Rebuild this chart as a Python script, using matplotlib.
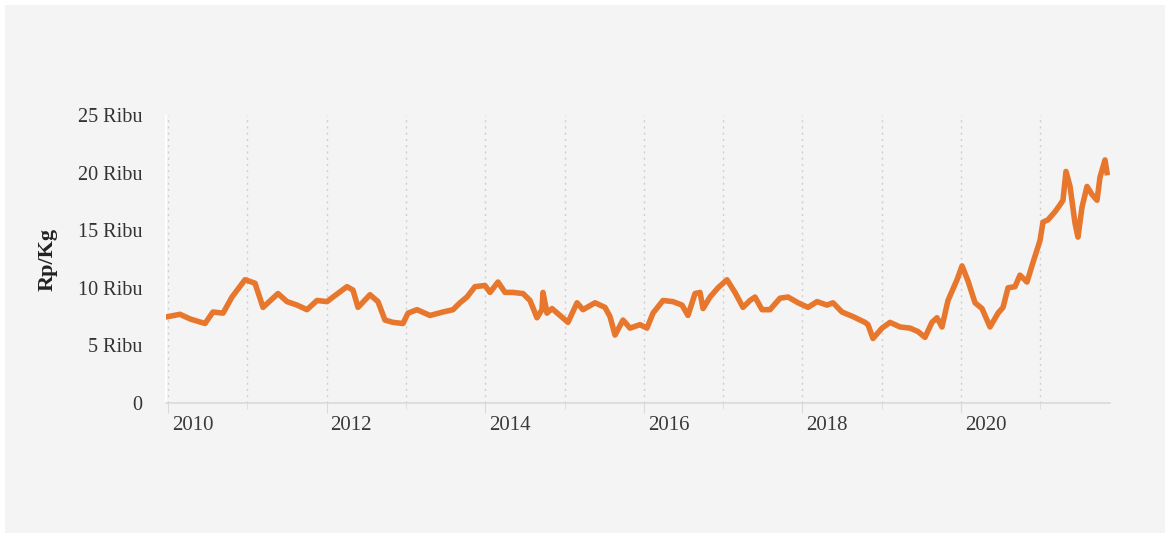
import matplotlib
matplotlib.use("Agg")
import matplotlib.pyplot as plt
import matplotlib.transforms as mtrans
from matplotlib.patches import Rectangle
from matplotlib.ticker import FixedLocator, FuncFormatter

# decimal year
years = [2010.000, 2010.151, 2010.277, 2010.467, 2010.567, 2010.694, 2010.807, 2010.971,
         2011.097, 2011.198, 2011.387, 2011.501, 2011.627, 2011.753, 2011.879, 2012.005,
         2012.081, 2012.257, 2012.333, 2012.396, 2012.547, 2012.648, 2012.736, 2012.837,
         2012.963, 2013.027, 2013.140, 2013.304, 2013.468, 2013.594, 2013.682, 2013.770,
         2013.871, 2013.997, 2014.061, 2014.161, 2014.250, 2014.351, 2014.477, 2014.565,
         2014.653, 2014.716, 2014.729, 2014.779, 2014.842, 2014.943, 2015.044, 2015.158,
         2015.233, 2015.385, 2015.511, 2015.574, 2015.637, 2015.738, 2015.826, 2015.952,
         2016.040, 2016.116, 2016.242, 2016.368, 2016.482, 2016.557, 2016.646, 2016.709,
         2016.747, 2016.835, 2016.936, 2017.049, 2017.150, 2017.251, 2017.339, 2017.402,
         2017.491, 2017.591, 2017.718, 2017.819, 2017.945, 2018.071, 2018.184, 2018.310,
         2018.386, 2018.499, 2018.638, 2018.789, 2018.827, 2018.890, 2019.004, 2019.105,
         2019.231, 2019.357, 2019.458, 2019.546, 2019.634, 2019.697, 2019.760, 2019.836,
         2019.950, 2020.013, 2020.088, 2020.177, 2020.265, 2020.366, 2020.467, 2020.530,
         2020.593, 2020.681, 2020.744, 2020.832, 2020.908, 2020.996, 2021.034, 2021.097,
         2021.185, 2021.248, 2021.286, 2021.324, 2021.375, 2021.438, 2021.475, 2021.526,
         2021.589, 2021.652, 2021.715, 2021.753, 2021.816, 2021.841]

# Rp/Kg
price = [7500, 7700, 7300, 6900, 7900, 7800, 9200, 10700,
         10400, 8300, 9500, 8800, 8500, 8100, 8900, 8800,
         9200, 10100, 9800, 8300, 9400, 8800, 7200, 7000,
         6900, 7800, 8100, 7600, 7900, 8100, 8700, 9200,
         10100, 10200, 9600, 10500, 9600, 9600, 9500, 8900,
         7400, 8100, 9600, 7800, 8200, 7600, 7000, 8700,
         8100, 8700, 8300, 7500, 5900, 7200, 6500, 6800,
         6500, 7800, 8900, 8800, 8500, 7600, 9500, 9600,
         8200, 9200, 10000, 10700, 9600, 8300, 8900, 9200,
         8100, 8100, 9100, 9200, 8700, 8300, 8800, 8500,
         8700, 7900, 7500, 7000, 6800, 5600, 6500, 7000,
         6600, 6500, 6200, 5700, 7000, 7400, 6600, 8900,
         10700, 11900, 10600, 8700, 8200, 6600, 7800, 8300,
         10000, 10100, 11100, 10500, 12200, 14100, 15700, 15900,
         16600, 17200, 17600, 20100, 18800, 15600, 14400, 17000,
         18800, 18100, 17600, 19600, 21100, 20000]

y_ticks = [0, 5000, 10000, 15000, 20000, 25000]
x_major = [2010, 2012, 2014, 2016, 2018, 2020]
x_grid = list(range(2010, 2022))

W, H = 1170, 538
fig = plt.figure(figsize=(W / 100, H / 100), dpi=100, facecolor="white")
fig.patches.append(Rectangle((5 / W, 5 / H), 1160 / W, 528 / H, transform=fig.transFigure,
                             facecolor="#f4f4f4", edgecolor="none", zorder=-10))

left, right, top, bottom = 166, 1110, 115, 403
ax = fig.add_axes([left / W, 1 - bottom / H, (right - left) / W, (bottom - top) / H])
ax.set_facecolor("none")
ax.set_zorder(5)

ax.set_xlim(2010 + (left - 168) / 79.3, 2010 + (right - 168) / 79.3)
ax.set_ylim(0, 25000)

for g in x_grid:
    ax.axvline(g, color="#cfcfcf", lw=1.0, ls=(0, (1.5, 3)), zorder=1)

ax.plot(years, price, color="#e8772e", lw=4.0, solid_joinstyle="round", zorder=3)

for s in ["top", "right"]:
    ax.spines[s].set_visible(False)
ax.spines["left"].set_color("#ffffff")
ax.spines["left"].set_linewidth(1.2)
ax.spines["bottom"].set_color("#dadada")
ax.spines["bottom"].set_linewidth(1.2)

ax.yaxis.set_major_locator(FixedLocator(y_ticks))
ax.yaxis.set_major_formatter(FuncFormatter(lambda v, p: "0" if v == 0 else f"{int(v/1000)} Ribu"))
ax.tick_params(axis="y", length=0, pad=17, labelsize=14.5, labelcolor="#333333")
for lab in ax.get_yticklabels():
    lab.set_fontfamily("Liberation Serif")

ax.xaxis.set_major_locator(FixedLocator(x_major))
ax.xaxis.set_minor_locator(FixedLocator([y for y in x_grid if y not in x_major]))
ax.set_xticklabels([str(x) for x in x_major], fontfamily="Liberation Serif", fontsize=15,
                   color="#3a3a3a", ha="left")
ax.tick_params(axis="x", which="major", length=7, color="#dadada", pad=2)
ax.tick_params(axis="x", which="minor", length=4, color="#dadada")
offset = mtrans.ScaledTranslation(4 / 100, 0, fig.dpi_scale_trans)
for lab in ax.get_xticklabels():
    lab.set_transform(lab.get_transform() + offset)

ax.set_ylabel("Rp/Kg", fontfamily="Liberation Serif", fontsize=16, fontweight="bold",
              color="#222222")
ax.yaxis.set_label_coords((58 - left) / (right - left), 0.5)

fig.savefig("out.png", dpi=100, facecolor="white")
